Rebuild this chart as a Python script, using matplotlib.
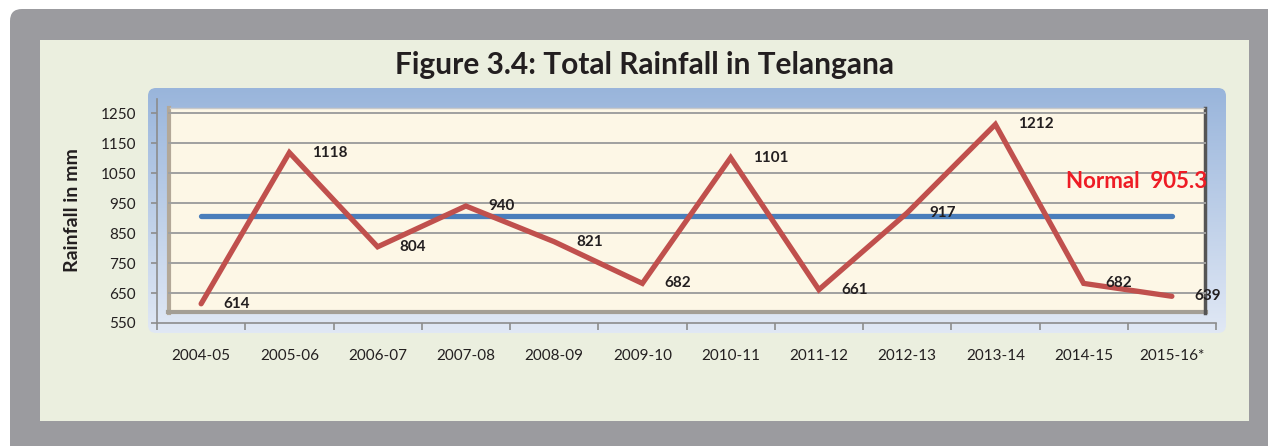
import numpy as np
import matplotlib.pyplot as plt
from matplotlib.patches import FancyBboxPatch, Rectangle

years = ["2004-05", "2005-06", "2006-07", "2007-08", "2008-09", "2009-10",
         "2010-11", "2011-12", "2012-13", "2013-14", "2014-15", "2015-16*"]
rainfall = [614, 1118, 804, 940, 821, 682, 1101, 661, 917, 1212, 682, 639]
normal = 905.3
yticks = [550, 650, 750, 850, 950, 1050, 1150, 1250]

plt.rcParams['font.family'] = ['Lato', 'DejaVu Sans']

W, H = 1268, 446
fig = plt.figure(figsize=(W / 100, H / 100), dpi=100)
fig.patch.set_facecolor("white")

# background decorations in pixel coordinates
bg = fig.add_axes([0, 0, 1, 1], zorder=-1)
bg.set_xlim(0, W)
bg.set_ylim(H, 0)
bg.axis("off")

bg.add_patch(FancyBboxPatch((10, 9), W + 20, H + 20,
                            boxstyle="round,pad=0,rounding_size=12",
                            fc="#9b9b9f", ec="none"))
bg.add_patch(Rectangle((40, 40), 1209, 381, fc="#ebefdf", ec="none"))

frame = FancyBboxPatch((148, 88), 1078, 245,
                       boxstyle="round,pad=0,rounding_size=8",
                       fc="none", ec="none")
bg.add_patch(frame)
grad = np.linspace(0, 1, 256).reshape(-1, 1)
top = np.array([0.60, 0.71, 0.86])
bot = np.array([0.88, 0.91, 0.96])
img = top + (bot - top) * grad[..., None]
im = bg.imshow(img, extent=(148, 1226, 333, 88), aspect="auto", zorder=1)
im.set_clip_path(frame)

# plot area (back wall) with 3d-ish edges
bg.add_patch(Rectangle((168, 108), 1038, 205, fc="#fdf7e6", ec="none", zorder=2))
bg.plot([169, 169], [108, 313], color="#b3a898", lw=3, zorder=3)
bg.plot([168, 1206], [312, 312], color="#a39e95", lw=3, zorder=3)
bg.plot([1205, 1205], [108, 313], color="#555555", lw=2.5, zorder=3)
bg.plot([170, 1204], [108, 108], color="#c8c8c8", lw=1, zorder=3)

fig.text(645 / W, 1 - 65 / H, "Figure 3.4: Total Rainfall in Telangana",
         ha="center", va="center", fontsize=21.5, fontweight="bold", color="#231f20")

# main axes: x 157..1216 px, y 99..323 px (550 at 323, 0.3 px per mm)
left, right = 157, 1216
ybot, ytop = 323, 99
ax = fig.add_axes([left / W, (H - ybot) / H, (right - left) / W, (ybot - ytop) / H])
ax.patch.set_alpha(0)
ax.set_xlim(-0.5, len(years) - 0.5)
ax.set_ylim(550, 550 + (ybot - ytop) / 0.3)

x = np.arange(len(years))
ax.hlines(yticks[1:], -0.375, 11.39, color="#a0a0a0", lw=1.4, zorder=1)

ax.plot([x[0], x[-1]], [normal, normal], color="#4a7ebb", lw=3.8,
        solid_capstyle="round", zorder=2)
ax.plot(x, rainfall, color="#c0504d", lw=3.8, solid_joinstyle="miter",
        solid_capstyle="round", zorder=3)

for xi, v in zip(x, rainfall):
    ax.annotate(str(v), (xi, v), xytext=(16, 0), textcoords="offset points",
                ha="left", va="center", fontsize=11, fontweight="bold",
                color="#231f20", zorder=4)

ax.text(9.80, 1021, "Normal  905.3", ha="left", va="center", fontsize=16,
        fontweight="bold", color="#ee1c25", zorder=4)

for s in ["top", "right"]:
    ax.spines[s].set_visible(False)
for s in ["left", "bottom"]:
    ax.spines[s].set_color("#8c8c8c")
    ax.spines[s].set_linewidth(1.2)

ax.set_yticks(yticks)
ax.set_xticks(np.arange(len(years) + 1) - 0.5, minor=False)
ax.set_xticklabels([])
ax.set_xticks(x, minor=True)
ax.set_xticklabels(years, minor=True)
ax.tick_params(axis="x", which="major", length=5, color="#8c8c8c", width=1.2)
ax.tick_params(axis="x", which="minor", length=0, pad=19, labelsize=11,
               labelcolor="#231f20")
ax.tick_params(axis="y", length=4, color="#8c8c8c", width=1.2, pad=11,
               labelsize=11, labelcolor="#231f20")

fig.text(72 / W, 1 - 210 / H, "Rainfall in mm", rotation=90, ha="center",
         va="center", fontsize=14, fontweight="bold", color="#231f20")

fig.savefig("out.png", dpi=100)
